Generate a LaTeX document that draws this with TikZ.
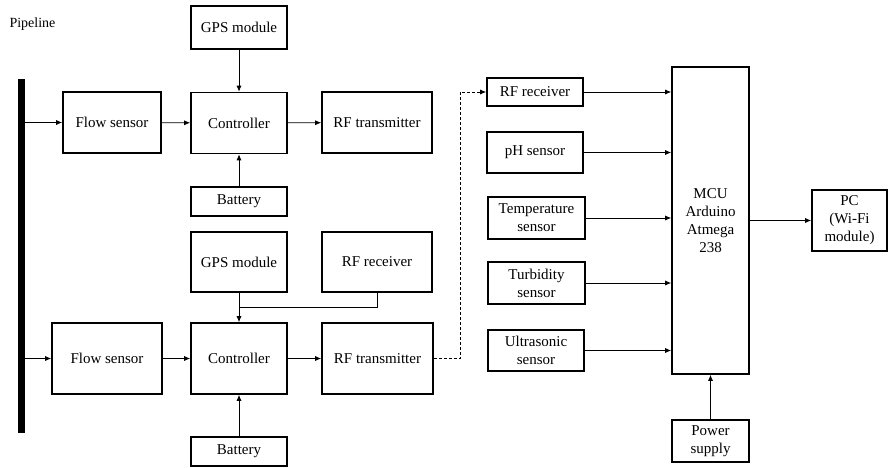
\documentclass[tikz,border=0pt]{standalone}
\usepackage{fontspec}
\setmainfont{Liberation Serif}
\usetikzlibrary{arrows.meta}

\begin{document}
\begin{tikzpicture}[x=1pt, y=-1pt]

\tikzset{box/.style = {draw, line width=1.6pt, inner sep=0pt, align=center, font=\fontsize{15}{18}\selectfont}}
\tikzset{edge/.style = {-{Latex[length=6pt,width=5pt]}, line width=0.8pt}}
\useasboundingbox (0,0) rectangle (889,468);
%pipeline
\node[anchor=west, font=\fontsize{14}{16}\selectfont] (pipelabel) at (6,24) {Pipeline};
\node[fill=black, inner sep=0pt, minimum width=7pt, minimum height=354pt] (pipe) at (21.5,256) {};
%upper node
\node[box, minimum width=96pt, minimum height=43pt] (gps1) at (239,27.5) {GPS module};
\node[box, minimum width=98pt, minimum height=61pt] (flow1) at (112,122.5) {Flow sensor};
\node[box, minimum width=96pt, minimum height=61pt] (ctrl1) at (239,123) {Controller};
\node[box, minimum width=110pt, minimum height=61pt] (tx1) at (377,122.5) {RF transmitter};
\node[box, minimum width=96pt, minimum height=29pt] (bat1) at (239,201.5) {Battery};
%lower node
\node[box, minimum width=96pt, minimum height=60pt] (gps2) at (239,262) {GPS module};
\node[box, minimum width=110pt, minimum height=60pt] (rx2) at (377,262) {RF receiver};
\node[box, minimum width=110pt, minimum height=71pt] (flow2) at (107,358.5) {Flow sensor};
\node[box, minimum width=96pt, minimum height=71pt] (ctrl2) at (239,358.5) {Controller};
\node[box, minimum width=111pt, minimum height=71pt] (tx2) at (377.5,358.5) {RF transmitter};
\node[box, minimum width=96pt, minimum height=29pt] (bat2) at (239,451.5) {Battery};
%station
\node[box, minimum width=96pt, minimum height=28pt] (rx) at (535,92) {RF receiver};
\node[box, minimum width=96pt, minimum height=41pt] (ph) at (535,152.5) {pH sensor};
\node[box, minimum width=97pt, minimum height=42pt] (temp) at (536.5,218) {Temperature\\sensor};
\node[box, minimum width=97pt, minimum height=42pt] (turb) at (536.5,283) {Turbidity\\sensor};
\node[box, minimum width=96pt, minimum height=41pt] (ultra) at (536,350.5) {Ultrasonic\\sensor};
\node[box, minimum width=77pt, minimum height=307pt] (mcu) at (710.5,220.5) {MCU\\Arduino\\Atmega\\238};
\node[box, minimum width=75pt, minimum height=61pt] (pc) at (849.5,220.5) {PC\\(Wi-Fi\\module)};
\node[box, minimum width=77pt, minimum height=42pt] (power) at (710.5,441) {Power\\supply};
\coordinate (join) at (239,307);
\coordinate (hop) at (460,358.5);
%edges
\draw[edge] (pipe.east |- flow1.west) -- (flow1.west);
\draw[edge] (flow1) -- (ctrl1);
\draw[edge] (ctrl1) -- (tx1);
\draw[edge] (gps1) -- (ctrl1);
\draw[edge] (bat1) -- (ctrl1);
\draw[edge] (pipe.east |- flow2.west) -- (flow2.west);
\draw[edge] (flow2) -- (ctrl2);
\draw[edge] (ctrl2) -- (tx2);
\draw[edge] (gps2) -- (ctrl2);
\draw[line width=0.8pt] (rx2.south) |- (join);
\draw[edge] (bat2) -- (ctrl2);
\draw[edge, dash pattern=on 3pt off 2pt] (tx2.east) -- (hop) |- (rx.west);
\draw[edge] (rx.east) -- (mcu.west |- rx.east);
\draw[edge] (ph.east) -- (mcu.west |- ph.east);
\draw[edge] (temp.east) -- (mcu.west |- temp.east);
\draw[edge] (turb.east) -- (mcu.west |- turb.east);
\draw[edge] (ultra.east) -- (mcu.west |- ultra.east);
\draw[edge] (mcu.east |- pc.west) -- (pc.west);
\draw[edge] (power) -- (mcu);

\end{tikzpicture}
\end{document}
